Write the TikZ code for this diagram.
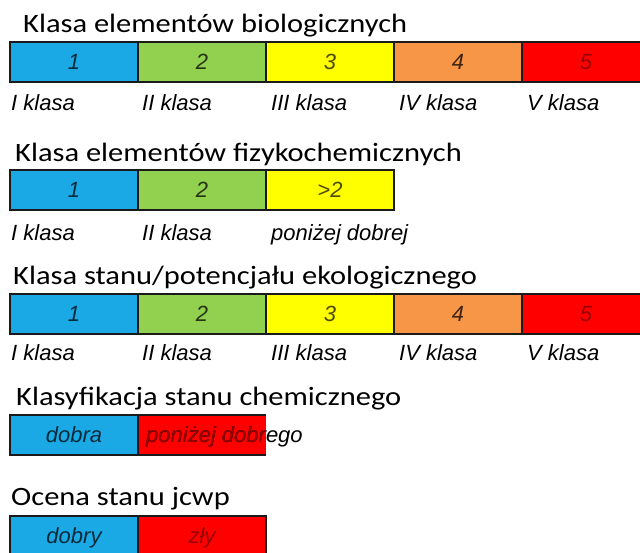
\documentclass[tikz,border=0pt]{standalone}
\usepackage{fontspec}
\setmainfont{Carlito}[FakeStretch=1.15]
\newfontfamily\arialf{Liberation Sans}
\definecolor{cblue}{HTML}{1BA9E6}
\definecolor{cgreen}{HTML}{92D050}
\definecolor{cyellow}{HTML}{FFFF00}
\definecolor{corange}{HTML}{F79646}
\definecolor{cred}{HTML}{FF0000}
\definecolor{bord}{HTML}{1A1A1A}
\tikzset{
  cell/.style={draw=bord, line width=1.4pt, minimum width=128pt, minimum height=40pt, inner sep=0pt, outer sep=0pt},
  bordline/.style={draw=bord, line width=1.4pt},
  title/.style={anchor=base west, inner sep=0pt, text=black, font=\fontsize{26.5}{30}\selectfont},
  lab/.style={anchor=base west, inner sep=0pt, text=black, font=\arialf\itshape\fontsize{22}{26}\selectfont},
  num/.style={anchor=base, inner sep=0pt, font=\arialf\itshape\fontsize{22}{26}\selectfont},
}
\begin{document}
\begin{tikzpicture}[x=1pt,y=-1pt]
\useasboundingbox[fill=white] (0,0) rectangle (640,552);
% ---------- Row 1
\node[title] (t1) at (23,32) {Klasa elementów biologicznych};
\node[cell, fill=cblue]   (a1) at (74,62) {};
\node[cell, fill=cgreen]  (a2) at (202,62) {};
\node[cell, fill=cyellow] (a3) at (330,62) {};
\node[cell, fill=corange] (a4) at (458,62) {};
\node[cell, fill=cred]    (a5) at (586,62) {};
\node[num, text=cblue!25!black]   (n11) at ([yshift=12.5pt]a1.south) {1};
\node[num, text=cgreen!25!black]  (n12) at ([yshift=12.5pt]a2.south) {2};
\node[num, text=cyellow!30!black] (n13) at ([yshift=12.5pt]a3.south) {3};
\node[num, text=corange!25!black] (n14) at ([yshift=12.5pt]a4.south) {4};
\node[num, text=cred!60!black]    (n15) at ([yshift=12.5pt]a5.south) {5};
\node[lab] (l11) at (11,110) {I klasa};
\node[lab] (l12) at (142,110) {II klasa};
\node[lab] (l13) at (271,110) {III klasa};
\node[lab] (l14) at (399,110) {IV klasa};
\node[lab] (l15) at (527,110) {V klasa};
% ---------- Row 2
\node[title] (t2) at (15,161) {Klasa elementów fizykochemicznych};
\node[cell, fill=cblue]   (b1) at (74,190) {};
\node[cell, fill=cgreen]  (b2) at (202,190) {};
\node[cell, fill=cyellow] (b3) at (330,190) {};
\node[num, text=cblue!25!black]   (n21) at ([yshift=12.5pt]b1.south) {1};
\node[num, text=cgreen!25!black]  (n22) at ([yshift=12.5pt]b2.south) {2};
\node[num, text=cyellow!30!black] (n23) at ([yshift=12.5pt]b3.south) {>2};
\node[lab] (l21) at (11,240) {I klasa};
\node[lab] (l22) at (142,240) {II klasa};
\node[lab] (l23) at (271,240) {poniżej dobrej};
% ---------- Row 3
\node[title] (t3) at (13,284) {Klasa stanu/potencjału ekologicznego};
\node[cell, fill=cblue]   (c1) at (74,314) {};
\node[cell, fill=cgreen]  (c2) at (202,314) {};
\node[cell, fill=cyellow] (c3) at (330,314) {};
\node[cell, fill=corange] (c4) at (458,314) {};
\node[cell, fill=cred]    (c5) at (586,314) {};
\node[num, text=cblue!25!black]   (n31) at ([yshift=12.5pt]c1.south) {1};
\node[num, text=cgreen!25!black]  (n32) at ([yshift=12.5pt]c2.south) {2};
\node[num, text=cyellow!30!black] (n33) at ([yshift=12.5pt]c3.south) {3};
\node[num, text=corange!25!black] (n34) at ([yshift=12.5pt]c4.south) {4};
\node[num, text=cred!60!black]    (n35) at ([yshift=12.5pt]c5.south) {5};
\node[lab] (l31) at (11,360) {I klasa};
\node[lab] (l32) at (142,360) {II klasa};
\node[lab] (l33) at (271,360) {III klasa};
\node[lab] (l34) at (399,360) {IV klasa};
\node[lab] (l35) at (527,360) {V klasa};
% ---------- Row 4
\node[title] (t4) at (16,405) {Klasyfikacja stanu chemicznego};
\node[cell, fill=cblue] (d1) at (74,435) {};
\node[cell, draw=none, fill=cred] (d2) at (202,435) {};
\draw[bordline] (d2.north east) -- (d1.north west) -- (d1.south west) -- (d2.south east);
\draw[bordline] (d1.north east) -- (d1.south east);
\node[num, text=cblue!25!black] (n41) at ([yshift=12.5pt]d1.south) {dobra};
\node[lab, text=black] (n42) at (146,442.5) {poniżej dobrego};
\begin{scope}
  \clip (d2.north west) rectangle (d2.south east);
  \node[lab, text=cred!60!black] (n42b) at (146,442.5) {poniżej dobrego};
\end{scope}
% ---------- Row 5
\node[title] (t5) at (11,505) {Ocena stanu jcwp};
\node[cell, fill=cblue] (e1) at (74,536) {};
\node[cell, fill=cred]  (e2) at (202,536) {};
\node[num, text=cblue!25!black] (n51) at ([yshift=12.5pt]e1.south) {dobry};
\node[num, text=cred!60!black]  (n52) at ([yshift=12.5pt]e2.south) {zły};
\end{tikzpicture}
\end{document}
